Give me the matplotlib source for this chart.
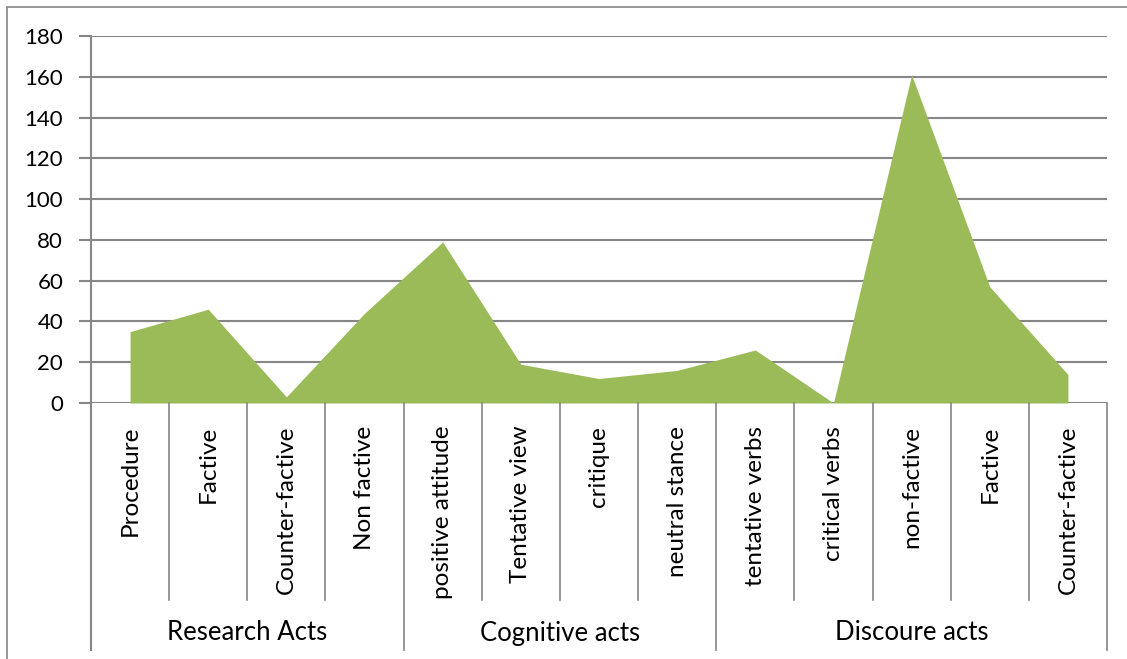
import matplotlib
matplotlib.use('Agg')

import matplotlib.pyplot as plt
from matplotlib.patches import Rectangle
import matplotlib.transforms as mtransforms

categories = ["Procedure", "Factive", "Counter-factive", "Non factive",
              "positive attitude", "Tentative view", "critique", "neutral stance",
              "tentative verbs", "critical verbs", "non-factive", "Factive",
              "Counter-factive"]
values = [35, 46, 3, 44, 79, 19, 12, 16, 26, 0, 161, 57, 14]
groups = ["Research Acts", "Cognitive acts", "Discoure acts"]
group_sizes = [4, 4, 5]
y_ticks = list(range(0, 181, 20))

W, H = 1127, 659
grey = '#868686'
green = '#9BBB59'
plt.rcParams['font.family'] = ['Lato', 'DejaVu Sans']

fig = plt.figure(figsize=(W / 100, H / 100), dpi=100)
ax = fig.add_axes([91 / W, (H - 403) / H, (1107 - 91) / W, (403 - 36) / H])

# chart frame: only left and top edges fall inside the canvas
fig.patches.append(Rectangle((7 / W, -0.05), 1.0, (H - 7) / H + 0.05,
                             transform=fig.transFigure, fill=False,
                             edgecolor=grey, linewidth=1.2))

x = list(range(len(values)))
ax.fill_between(x, values, 0, color=green, linewidth=0, zorder=2)

ax.set_xlim(-0.5, len(values) - 0.5)
ax.set_ylim(0, 180)
ax.set_yticks(y_ticks)
ax.tick_params(axis='y', length=9, width=1.5, color=grey, labelsize=16, pad=11)
ax.set_xticks([])
for yv in y_ticks:
    ax.axhline(yv, color=grey, linewidth=1.5, zorder=1)

for s in ['top', 'right', 'bottom']:
    ax.spines[s].set_visible(False)
ax.spines['left'].set_color(grey)
ax.spines['left'].set_linewidth(1.5)
ax.spines['left'].set_bounds(0, 180)

trans = mtransforms.blended_transform_factory(ax.transData, ax.transAxes)
short_y = (403 - 600) / 367
long_y = (403 - 650) / 367

# left axis line continues down past the labels
ax.plot([-0.5, -0.5], [0, long_y], transform=trans, color=grey,
        linewidth=1.5, clip_on=False)

bounds = [0]
for n in group_sizes:
    bounds.append(bounds[-1] + n)

for i in range(1, len(values) + 1):
    bottom = long_y if i in bounds else short_y
    ax.plot([i - 0.5, i - 0.5], [0, bottom], transform=trans, color=grey,
            linewidth=1.2, clip_on=False)

for i, lab in enumerate(categories):
    ax.text(i, -0.062, lab, transform=trans, rotation=90, ha='center',
            va='top', fontsize=17.5, clip_on=False)

for g, lab in enumerate(groups):
    center = (bounds[g] + bounds[g + 1]) / 2 - 0.5
    ax.text(center, (403 - 633) / 367, lab, transform=trans, ha='center',
            va='center', fontsize=18.5, clip_on=False)

plt.savefig("out.png", dpi=100)
